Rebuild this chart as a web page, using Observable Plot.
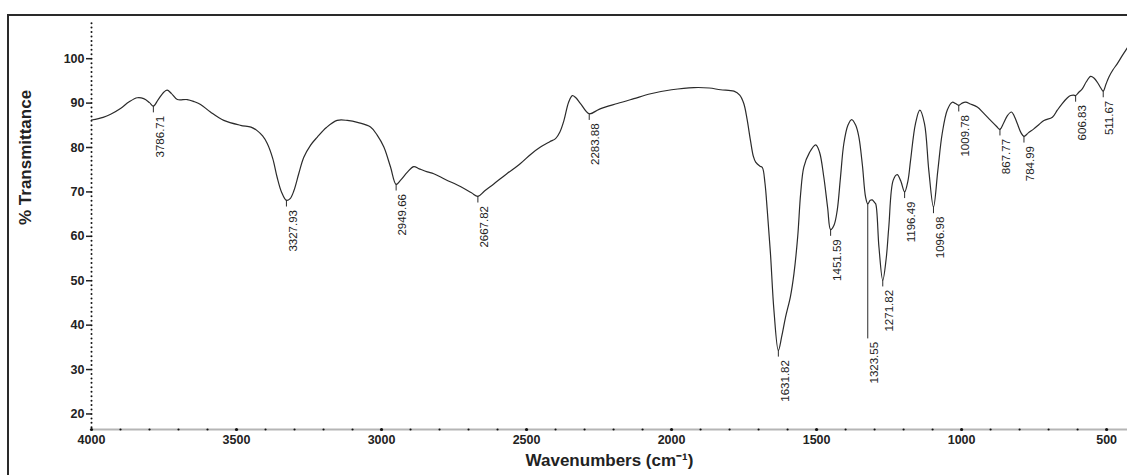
<!DOCTYPE html>
<html>
<head>
<meta charset="utf-8">
<script src="https://cdn.jsdelivr.net/npm/d3@7"></script>
<script src="https://cdn.jsdelivr.net/npm/@observablehq/plot@0.6"></script>
<style>
  html, body { margin: 0; padding: 0; background: #fff; overflow: hidden; }
  #wrap { position: relative; width: 1127px; height: 475px; }
  #frame { position: absolute; left: 7px; top: 14px; width: 1300px; height: 600px;
           border-top: 2px solid #2a2a2a; border-left: 2px solid #2a2a2a; box-sizing: border-box; }
  #chart { position: absolute; left: 0; top: 0; }
</style>
</head>
<body>
<div id="wrap"><div id="frame"></div><div id="chart"></div></div>
<script>
// FTIR spectrum: wavenumber (cm-1) and % transmittance
const wavenumber = [
  4000, 3960, 3934, 3900, 3870, 3842, 3820, 3800, 3786.71, 3770, 3750, 3739, 3725, 3704, 3670, 3645, 3624,
  3590, 3544, 3486, 3450, 3429, 3410, 3394, 3375, 3360, 3345, 3327.93, 3315, 3302, 3285, 3268, 3245, 3222,
  3190, 3153, 3118, 3080, 3038, 3015, 2992, 2969, 2949.66, 2935, 2910, 2889, 2870, 2842, 2820, 2780, 2728,
  2690, 2667.82, 2645, 2613, 2570, 2521, 2485, 2452, 2420, 2400, 2385, 2371, 2355, 2342, 2330, 2314, 2283.88,
  2250, 2187, 2130, 2072, 2000, 1923, 1870, 1831, 1785, 1765, 1751, 1740, 1728, 1718, 1710, 1695, 1687,
  1678, 1670, 1659, 1647, 1631.82, 1620, 1607, 1590, 1578, 1565, 1555, 1544, 1525, 1503, 1490, 1475, 1462,
  1451.59, 1440, 1429, 1418, 1406, 1392, 1379, 1365, 1354, 1342, 1331, 1323.55, 1315, 1308, 1300, 1296,
  1285, 1271.82, 1260, 1251, 1236, 1222, 1210, 1196.49, 1185, 1176, 1159, 1144, 1128, 1113, 1096.98, 1082,
  1067, 1049, 1032, 1021, 1009.78, 998, 986, 970, 946, 925, 900, 880, 867.77, 855, 842, 828, 818, 808, 795,
  784.99, 770, 751, 733, 716, 687, 670, 653, 635, 624, 614, 606.83, 595, 584, 570, 555, 543, 532, 520,
  511.67, 502, 492, 478, 463, 445, 428
];
const transmittance = [
  86.2, 86.8, 87.5, 88.8, 90.3, 91.2, 91.0, 90.1, 89.3, 90.8, 92.5, 92.9, 92.2, 90.8, 90.8, 90.3, 89.7,
  88.0, 86.1, 85.0, 84.6, 83.8, 82.6, 80.9, 77.5, 73.3, 70.0, 68.1, 68.5, 70.3, 74.2, 77.8, 80.5, 82.3,
  84.5, 86.1, 86.1, 85.6, 84.6, 82.8, 80.1, 75.6, 71.7, 72.6, 74.5, 75.7, 75.2, 74.5, 74.1, 72.8, 71.2,
  69.8, 69.0, 70.2, 71.8, 74.0, 76.4, 78.5, 80.1, 81.3, 82.0, 83.5, 86.1, 90.2, 91.7, 91.2, 89.9, 87.6,
  88.6, 89.9, 91.0, 92.1, 93.0, 93.5, 93.4, 93.0, 92.7, 91.8, 89.9, 86.5, 81.6, 78.0, 76.7, 75.8, 75.5,
  72.0, 65.8, 56.1, 43.3, 34.3, 37.5, 41.8, 46.5, 51.6, 60.0, 69.6, 75.6, 78.8, 80.6, 79.0, 73.3, 66.5,
  61.5, 62.5, 65.8, 73.0, 80.9, 85.0, 86.3, 85.0, 82.3, 76.0, 68.8, 67.3, 68.1, 68.2, 67.6, 67.3,
  57.6, 50.1, 55.0, 62.1, 72.6, 73.9, 72.5, 70.0, 72.5, 77.1, 85.4, 88.4, 85.4, 74.8, 66.6, 74.8,
  83.1, 88.5, 90.2, 89.9, 89.5, 90.0, 90.2, 89.8, 89.1, 87.8, 86.1, 84.8, 84.1, 85.5, 87.2, 88.0, 87.0, 85.4, 83.3,
  82.5, 83.3, 84.2, 85.2, 86.1, 86.8, 88.4, 89.9, 91.2, 91.7, 91.8, 91.7, 92.5, 93.2, 94.8, 96.0, 95.6, 94.7, 93.4,
  92.7, 94.3, 95.9, 97.5, 98.9, 100.8, 102.5
];

// Labelled absorption bands and the length of each leader line (in % T)
const peakWavenumbers = [3786.71, 3327.93, 2949.66, 2667.82, 2283.88, 1631.82, 1451.59, 1323.55,
                         1271.82, 1196.49, 1096.98, 1009.78, 867.77, 784.99, 606.83, 511.67];
const peakLabels = ["3786.71", "3327.93", "2949.66", "2667.82", "2283.88", "1631.82", "1451.59", "1323.55",
                    "1271.82", "1196.49", "1096.98", "1009.78", "867.77", "784.99", "606.83", "511.67"];
const leaderLengths = [1.5, 1.5, 1.5, 1.5, 1.5, 1.5, 1.5, 30.4, 1.5, 1.5, 1.5, 1.5, 1.5, 1.5, 1.5, 1.5];

// Axis ticks
const xTicks = [4000, 3500, 3000, 2500, 2000, 1500, 1000, 500];
const yTicks = [20, 30, 40, 50, 60, 70, 80, 90, 100];

const spectrum = wavenumber.map((w, i) => ({w, t: transmittance[i]}));
const peaks = peakWavenumbers.map((w, i) => {
  const t = transmittance[wavenumber.indexOf(w)];
  return {w, t, end: t - leaderLengths[i], label: peakLabels[i]};
});

const xMin = 428, xMax = 4000, yMin = 16.5, yMax = 108.6;
const minorX = d3.range(4000, 499, -100).filter(w => w % 500 !== 0);
const yDots = d3.range(17, 109, 1);

const font = "'Liberation Sans', Arial, Helvetica, sans-serif";

const chart = Plot.plot({
  width: 1127,
  height: 475,
  marginLeft: 91,
  marginRight: 0,
  marginTop: 20,
  marginBottom: 46,
  style: {fontFamily: font, background: "transparent", color: "#222"},
  x: {domain: [xMax, xMin], axis: null},
  y: {domain: [yMin, yMax], axis: null},
  marks: [
    // bottom axis: grey baseline with dotted minor and major ticks
    Plot.ruleY([yMin], {stroke: "#b5b5b5", strokeWidth: 2}),
    Plot.dot(minorX, {x: d => d, y: () => yMin, r: 1.1, fill: "#111", stroke: null}),
    Plot.dot(xTicks, {x: d => d, y: () => yMin, r: 1.6, fill: "#111", stroke: null}),
    Plot.axisX({ticks: xTicks, tickSize: 0, tickPadding: 6, tickFormat: d => String(d),
                fontSize: 12.5, fontWeight: "bold", label: null}),
    // left axis: dotted spine with major ticks
    Plot.dot(yDots, {x: () => xMax, y: d => d, r: 1, fill: "#111", stroke: null}),
    Plot.axisY({ticks: yTicks, tickSize: 5, tickPadding: 2, tickFormat: d => String(d),
                fontSize: 12.5, fontWeight: "bold", label: null, strokeWidth: 1.5}),
    // spectrum
    Plot.line(spectrum, {x: "w", y: "t", stroke: "#2b2b2b", strokeWidth: 1.2, curve: "catmull-rom"}),
    // peak leaders and labels
    Plot.ruleX(peaks, {x: "w", y1: "t", y2: "end", stroke: "#2b2b2b", strokeWidth: 1}),
    Plot.text(peaks, {x: "w", y: "end", text: "label", rotate: -90, textAnchor: "end", lineAnchor: "top",
                      dx: 2, dy: 3, fontSize: 11.5, fill: "#222"}),
    // axis titles
    Plot.text(["% Transmittance"], {frameAnchor: "left", dx: -66, rotate: -90, fontSize: 17,
                                    fontWeight: "bold", fill: "#222"}),
    Plot.text(["Wavenumbers (cm⁻¹)"], {frameAnchor: "bottom", dy: 36, fontSize: 17,
                                       fontWeight: "bold", fill: "#222"})
  ]
});
document.getElementById("chart").appendChild(chart);
</script>
</body>
</html>
